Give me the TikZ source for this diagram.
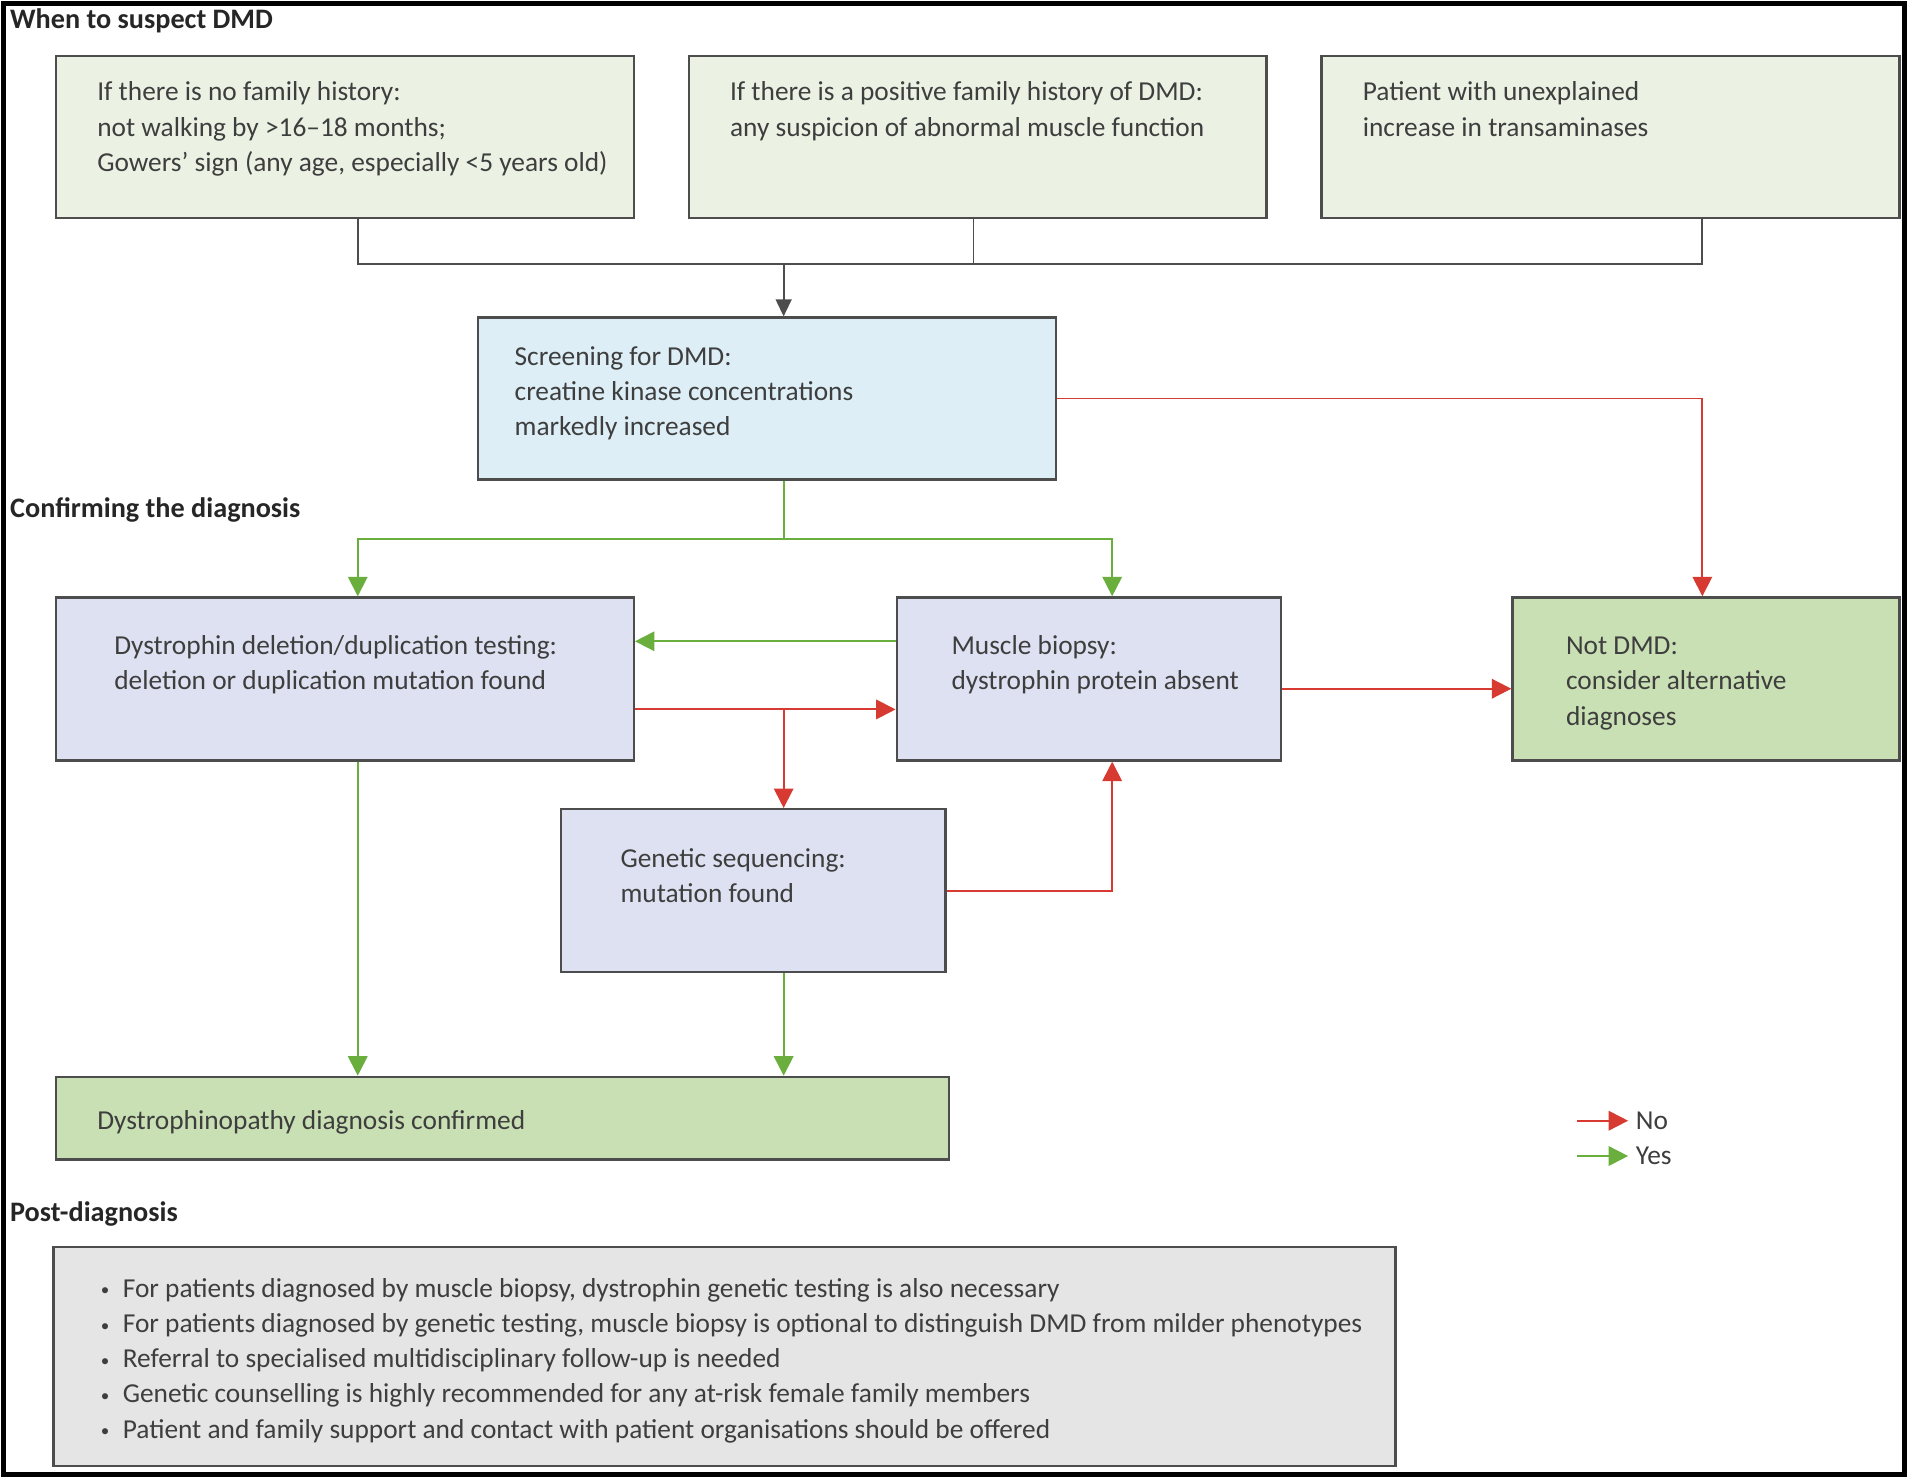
\documentclass[tikz,border=0pt]{standalone}
\usepackage{fontspec}
\setmainfont{Carlito}
\usetikzlibrary{arrows.meta}

\definecolor{edge}{HTML}{4D4D4D}
\definecolor{ink}{HTML}{3E3E3E}
\definecolor{paleg}{HTML}{EBF2E4}
\definecolor{paleb}{HTML}{DDEEF6}
\definecolor{lav}{HTML}{DEE1F1}
\definecolor{midg}{HTML}{C9E0B4}
\definecolor{greyb}{HTML}{E5E5E6}
\definecolor{nored}{HTML}{D63A30}
\definecolor{yesgreen}{HTML}{6AAE3E}

\newcommand{\pit}{\makebox[0.36cm][l]{\raisebox{0.1ex}{\footnotesize\textbullet}}}

\tikzset{
  flowbox/.style={draw=edge, line width=1.1pt, anchor=north west, inner ysep=0pt,
    align=flush left, text=ink, font=\fontsize{12.8}{16.5}\selectfont},
  suspectbox/.style={flowbox, fill=paleg, inner xsep=0.68cm, text width=8.14cm,
    text height=0.74cm, text depth=1.92cm},
  heading/.style={anchor=west, inner sep=0pt, text=black!85, font=\bfseries\fontsize{13.2}{16}\selectfont},
  link/.style={draw=edge, line width=0.9pt},
  blkarrow/.style={link, -{Triangle[length=0.28cm,width=0.26cm]}},
  noarrow/.style={draw=nored, line width=0.9pt, -{Triangle[length=0.32cm,width=0.32cm]}},
  yesarrow/.style={draw=yesgreen, line width=0.9pt, -{Triangle[length=0.32cm,width=0.32cm]}},
  noline/.style={draw=nored, line width=0.9pt},
  yesline/.style={draw=yesgreen, line width=0.9pt}
}

\begin{document}
\begin{tikzpicture}[x=0.02cm, y=-0.02cm]
% page and outer frame
\useasboundingbox (0,0) rectangle (1568,1215);
\fill[white] (0,0) rectangle (1568,1215);
\draw[black, line width=2.4pt] (3,3) rectangle (1565,1212);

% columns and rows used by the connectors
\coordinate (c1) at (294,0);
\coordinate (c2) at (644,0);
\coordinate (c3) at (914,0);
\coordinate (c4) at (1399,0);
\coordinate (c5) at (800,0);
\coordinate (r1) at (0,217);
\coordinate (r2) at (0,443);
\coordinate (r3) at (0,527);
\coordinate (r4) at (0,583);
\coordinate (r5) at (0,566);

% section titles
\node[heading] (h1) at (8,17) {When to suspect DMD};
\node[heading] (h2) at (8,419) {Confirming the diagnosis};
\node[heading] (h3) at (8,998) {Post-diagnosis};

% when to suspect
\node[suspectbox] (nohist) at (45,45) {If there is no family history:\\not walking by >16–18 months;\\\mbox{Gowers’ sign (any age, especially <5 years old)}};
\node[suspectbox] (poshist) at (565,45) {\mbox{If there is a positive family history of DMD:}\\\mbox{any suspicion of abnormal muscle function}};
\node[suspectbox] (transam) at (1085,45) {Patient with unexplained\\increase in transaminases};

% screening
\node[flowbox, fill=paleb, inner xsep=0.6cm, text width=8.3cm, text height=0.78cm, text depth=1.88cm] (screen) at (392,260) {Screening for DMD:\\creatine kinase concentrations\\markedly increased};

% confirming
\node[flowbox, fill=lav, inner xsep=0.96cm, text width=7.58cm, text height=0.94cm, text depth=1.74cm] (dupl) at (45,490) {\mbox{Dystrophin deletion/duplication testing:}\\\mbox{deletion or duplication mutation found}};
\node[flowbox, fill=lav, inner xsep=0.9cm, text width=4.52cm, text height=0.94cm, text depth=1.74cm] (biopsy) at (736,490) {Muscle biopsy:\\\mbox{dystrophin protein absent}};
\node[flowbox, fill=midg, inner xsep=0.88cm, text width=4.6cm, text height=0.94cm, text depth=1.74cm] (notdmd) at (1242,490) {Not DMD:\\consider alternative\\diagnoses};
\node[flowbox, fill=lav, inner xsep=0.98cm, text width=4.36cm, text height=0.96cm, text depth=1.72cm] (seq) at (460,664) {Genetic sequencing:\\mutation found};
\node[flowbox, fill=midg, inner xsep=0.68cm, text width=13.32cm, text height=0.86cm, text depth=0.50cm] (confirm) at (45,884) {Dystrophinopathy diagnosis confirmed};

% post-diagnosis
\node[flowbox, fill=greyb, inner xsep=0.78cm, text width=20.5cm, text height=0.82cm, text depth=2.78cm] (post) at (43,1024) {\pit For patients diagnosed by muscle biopsy, dystrophin genetic testing is also necessary\\
\mbox{\pit For patients diagnosed by genetic testing, muscle biopsy is optional to distinguish DMD from milder phenotypes}\\
\pit Referral to specialised multidisciplinary follow-up is needed\\
\pit Genetic counselling is highly recommended for any at-risk female family members\\
\pit Patient and family support and contact with patient organisations should be offered};

% joining the three entry boxes
\draw[link] (nohist.south -| c1) -- (c1 |- r1) -- (c4 |- r1) -- (transam.south -| c4);
\draw[link] (poshist.south -| c5) -- (c5 |- r1);
\draw[blkarrow] (c2 |- r1) -- (screen.north -| c2);

% screening outcomes
\draw[noarrow] (screen.east) -| (notdmd.north -| c4);
\draw[yesline] (screen.south -| c2) -- (c2 |- r2);
\draw[yesarrow] (c2 |- r2) -| (dupl.north -| c1);
\draw[yesarrow] (c2 |- r2) -| (biopsy.north -| c3);

% testing outcomes
\draw[yesarrow] (biopsy.west |- r3) -- (dupl.east |- r3);
\draw[noarrow] (dupl.east |- r4) -- (biopsy.west |- r4);
\draw[noarrow] (c2 |- r4) -- (seq.north -| c2);
\draw[noarrow] (biopsy.east |- r5) -- (notdmd.west |- r5);
\draw[noarrow] (seq.east) -| (biopsy.south -| c3);
\draw[yesarrow] (dupl.south -| c1) -- (confirm.north -| c1);
\draw[yesarrow] (seq.south -| c2) -- (confirm.north -| c2);

% legend
\coordinate (lgno) at (1296,921);
\coordinate (lgyes) at (1296,950);
\node[anchor=west, inner xsep=0.12cm, inner ysep=0pt, text=ink, font=\fontsize{12.8}{16.5}\selectfont] (nolab) at (1338,921) {No};
\node[anchor=west, inner xsep=0.12cm, inner ysep=0pt, text=ink, font=\fontsize{12.8}{16.5}\selectfont] (yeslab) at (1338,950) {Yes};
\draw[noarrow] (lgno) -- (nolab.west);
\draw[yesarrow] (lgyes) -- (yeslab.west);
\end{tikzpicture}
\end{document}
